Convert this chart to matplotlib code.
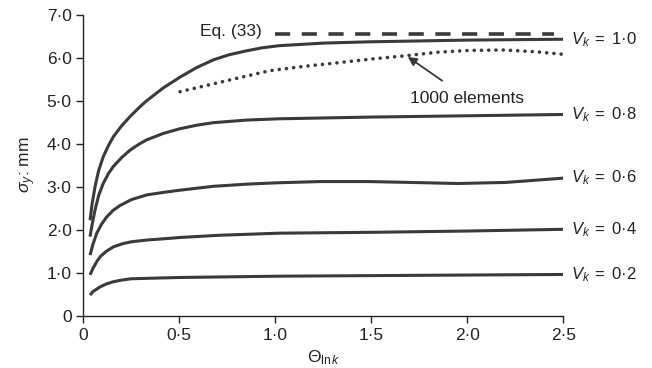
import matplotlib
matplotlib.use("Agg")
import matplotlib.pyplot as plt

plt.rcParams['font.family'] = ['Liberation Sans', 'DejaVu Sans']
plt.rcParams['mathtext.fontset'] = 'custom'
plt.rcParams['mathtext.rm'] = 'Liberation Sans'
plt.rcParams['mathtext.it'] = 'Liberation Sans:italic'

# curves
x_v10 = [0.035, 0.045, 0.061, 0.08, 0.104, 0.13, 0.156, 0.2, 0.243, 0.29, 0.33, 0.417,
         0.504, 0.59, 0.677, 0.76, 0.85, 0.93, 1.02, 1.25, 1.49, 2.0, 2.5]
y_v10 = [2.22, 2.58, 3.0, 3.38, 3.70, 3.95, 4.16, 4.42, 4.63, 4.84, 5.0, 5.3,
         5.55, 5.77, 5.95, 6.07, 6.16, 6.23, 6.28, 6.34, 6.37, 6.41, 6.43]
x_v08 = [0.035, 0.045, 0.061, 0.08, 0.104, 0.13, 0.156, 0.2, 0.243, 0.29, 0.33, 0.417,
         0.504, 0.59, 0.677, 0.85, 1.02, 1.5, 2.0, 2.5]
y_v08 = [1.84, 2.1, 2.46, 2.8, 3.08, 3.3, 3.47, 3.68, 3.85, 3.99, 4.09, 4.24,
         4.35, 4.43, 4.49, 4.55, 4.58, 4.62, 4.65, 4.68]
x_v06 = [0.035, 0.05, 0.07, 0.095, 0.122, 0.155, 0.19, 0.25, 0.33, 0.42, 0.504, 0.6,
         0.677, 0.85, 1.0, 1.23, 1.49, 1.7, 1.95, 2.2, 2.35, 2.5]
y_v06 = [1.41, 1.66, 1.92, 2.13, 2.3, 2.45, 2.56, 2.7, 2.81, 2.87, 2.92, 2.97,
         3.01, 3.06, 3.09, 3.12, 3.12, 3.1, 3.075, 3.1, 3.15, 3.2]
x_v04 = [0.035, 0.05, 0.07, 0.087, 0.12, 0.156, 0.2, 0.25, 0.33, 0.42, 0.504, 0.7,
         1.02, 1.5, 2.0, 2.5]
y_v04 = [0.95, 1.1, 1.26, 1.37, 1.5, 1.6, 1.67, 1.72, 1.76, 1.79, 1.82, 1.87,
         1.92, 1.94, 1.97, 2.01]
x_v02 = [0.035, 0.05, 0.07, 0.087, 0.12, 0.156, 0.2, 0.25, 0.33, 0.504, 1.02, 1.75, 2.5]
y_v02 = [0.48, 0.56, 0.62, 0.67, 0.74, 0.79, 0.83, 0.86, 0.87, 0.89, 0.92, 0.94, 0.96]
x_fe = [0.504, 0.75, 0.973, 1.15, 1.32, 1.5, 1.665, 1.85, 2.01, 2.19, 2.35, 2.5]
y_fe = [5.21, 5.47, 5.70, 5.8, 5.88, 5.97, 6.04, 6.13, 6.17, 6.18, 6.14, 6.08]
x_eq = [1.0, 2.45]
y_eq = [6.56, 6.56]

curve_x = [x_v10, x_v08, x_v06, x_v04, x_v02]
curve_y = [y_v10, y_v08, y_v06, y_v04, y_v02]
vk_labels = ['1·0', '0·8', '0·6', '0·4', '0·2']

x_ticks = [0, 0.5, 1.0, 1.5, 2.0, 2.5]
x_ticklabels = ['0', '0·5', '1·0', '1·5', '2·0', '2·5']
y_ticks = [0, 1, 2, 3, 4, 5, 6, 7]
y_ticklabels = ['0', '1·0', '2·0', '3·0', '4·0', '5·0', '6·0', '7·0']

ink = '#3a3a3a'
txt = '#222222'
fig = plt.figure(figsize=(6.52, 3.68), dpi=100)
ax = fig.add_axes([0.1278, 0.142, 0.7362, 0.818])

for xs, ys, lab in zip(curve_x, curve_y, vk_labels):
    ax.plot(xs, ys, color=ink, lw=2.2, solid_capstyle='butt', solid_joinstyle='round')
    ax.text(xs[-1] + 0.04, ys[-1], r'$V_k\;=\;$' + lab, fontsize=12,
            ha='left', va='center', color=txt)

ax.plot(x_fe, y_fe, color=ink, lw=2.6, linestyle=(0, (0.01, 2.0)), dash_capstyle='round')
ax.plot(x_eq, y_eq, color=ink, lw=2.6, linestyle=(0, (4.2, 3.2)))
ax.text(0.93, 6.6, 'Eq. (33)', fontsize=12.5, ha='right', va='center', color=txt)
ax.annotate('1000 elements', xy=(1.69, 6.02), xytext=(2.0, 5.06),
            fontsize=12.5, ha='center', va='center', color=txt,
            arrowprops=dict(arrowstyle='-|>', color=ink, lw=1.3,
                            shrinkA=9, shrinkB=0, mutation_scale=13))

ax.set_xlim(0, 2.5)
ax.set_ylim(0, 7)
ax.set_xticks(x_ticks)
ax.set_xticklabels(x_ticklabels)
ax.set_yticks(y_ticks)
ax.set_yticklabels(y_ticklabels)
ax.tick_params(labelsize=12.5, colors=txt, length=5, width=1)
for side in ['top', 'right']:
    ax.spines[side].set_visible(False)
for side in ['left', 'bottom']:
    ax.spines[side].set_color(txt)
    ax.spines[side].set_linewidth(1)
ax.set_xlabel(r'$\Theta_{\ln k}$', fontsize=12.5, color=txt, labelpad=4)
ax.set_ylabel(r'$\sigma_y$: mm', fontsize=12.5, color=txt, labelpad=6)

fig.savefig('out.png', dpi=100)
